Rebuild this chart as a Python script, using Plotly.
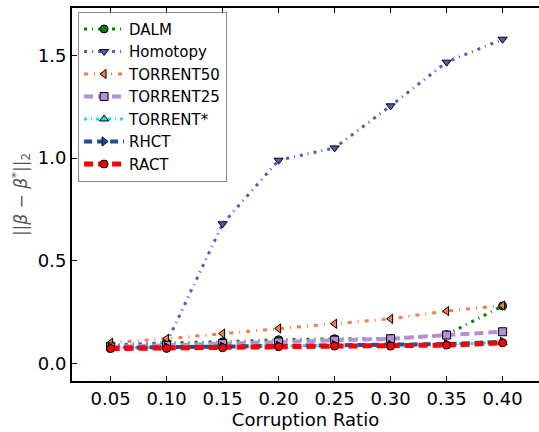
import plotly.graph_objects as go

x = [0.05, 0.10, 0.15, 0.20, 0.25, 0.30, 0.35, 0.40]
dalm = [0.085, 0.10, 0.105, 0.115, 0.12, 0.12, 0.14, 0.28]
homotopy = [0.09, 0.10, 0.68, 0.99, 1.05, 1.255, 1.468, 1.58]
torrent50 = [0.10, 0.12, 0.145, 0.17, 0.193, 0.217, 0.255, 0.282]
torrent25 = [0.08, 0.088, 0.097, 0.104, 0.113, 0.12, 0.138, 0.154]
torrent_star = [0.075, 0.078, 0.08, 0.084, 0.087, 0.088, 0.093, 0.102]
rhct = [0.076, 0.079, 0.081, 0.086, 0.089, 0.089, 0.094, 0.105]
ract = [0.072, 0.073, 0.076, 0.081, 0.084, 0.084, 0.089, 0.10]

series = [
    ("DALM", dalm, "#008000", "circle", "3px,5px,1px,5px", 3),
    ("Homotopy", homotopy, "#4d5fb5", "triangle-down", "3px,5px,1px,5px", 3),
    ("TORRENT50", torrent50, "#f47c48", "triangle-left", "4px,6px,1px,6px", 3),
    ("TORRENT25", torrent25, "#b48fd6", "square", "9px,5px", 4),
    ("TORRENT*", torrent_star, "#00e5ee", "triangle-up", "3px,4px,1px,4px", 3),
    ("RHCT", rhct, "#1f4f9c", "triangle-right", "8px,5px", 4),
    ("RACT", ract, "#ff0000", "circle", "9px,5px", 5),
]

fig = go.Figure()
for name, ys, col, sym, dash, w in series:
    fig.add_trace(go.Scatter(
        x=x, y=ys, name=name, mode="lines+markers",
        line=dict(color=col, width=w, dash=dash),
        marker=dict(symbol=sym, size=8, color=col, line=dict(color="black", width=1)),
    ))

font = "DejaVu Sans, sans-serif"
fig.update_layout(
    width=539, height=432,
    margin=dict(l=72, r=0, t=8, b=51),
    paper_bgcolor="white", plot_bgcolor="white",
    font=dict(family=font, size=18, color="black"),
    showlegend=True,
    legend=dict(
        x=0.013, y=0.99, xanchor="left", yanchor="top",
        bordercolor="#888888", borderwidth=1, bgcolor="white",
        font=dict(family=font, size=15, color="black"),
        itemwidth=40, tracegroupgap=0,
    ),
    xaxis=dict(
        range=[0.0155, 0.4325], tickvals=x,
        ticktext=["0.05", "0.10", "0.15", "0.20", "0.25", "0.30", "0.35", "0.40"],
        showgrid=False, zeroline=False,
        showline=True, linecolor="black", linewidth=2, mirror="ticks",
        ticks="inside", ticklen=5, tickcolor="black", tickwidth=1,
        tickfont=dict(size=18),
        title=dict(text="Corruption Ratio", font=dict(size=18), standoff=2),
    ),
    yaxis=dict(
        range=[-0.086, 1.732], tickvals=[0.0, 0.5, 1.0, 1.5],
        ticktext=["0.0", "0.5", "1.0", "1.5"],
        showgrid=False, zeroline=False,
        showline=True, linecolor="black", linewidth=2,
        ticks="inside", ticklen=5, tickcolor="black", tickwidth=1,
        tickfont=dict(size=18),
        title=dict(text="||<i>β</i> − <i>β</i><sup>*</sup>||<sub>2</sub>",
                   font=dict(size=17, color="#555555"), standoff=6),
    ),
)

fig.write_html("out.html")
